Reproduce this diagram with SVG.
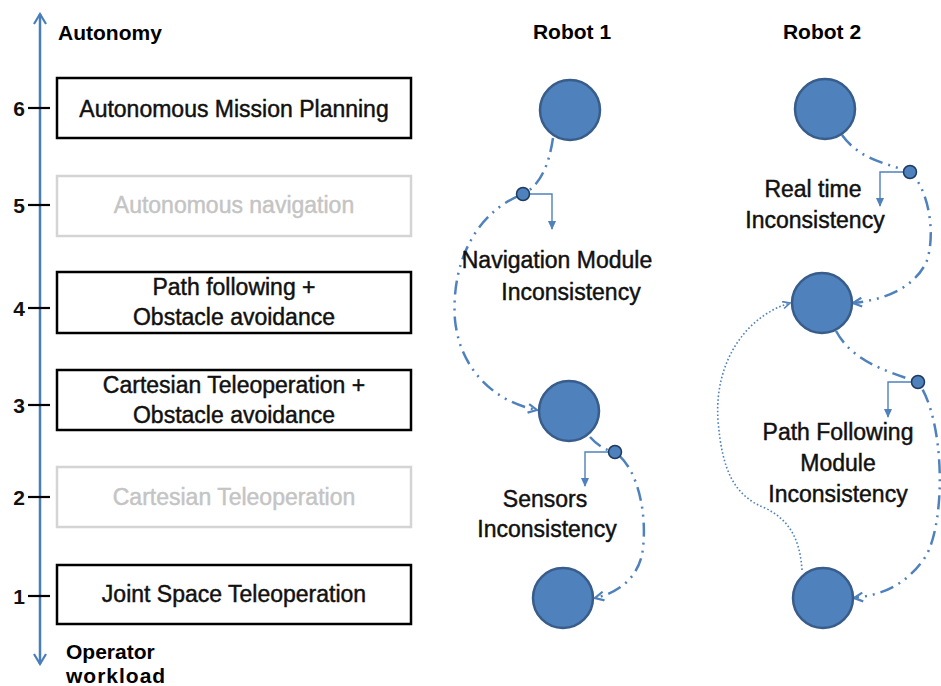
<svg xmlns="http://www.w3.org/2000/svg" width="941" height="686" viewBox="0 0 941 686">
<defs>
<style>
.bold{font-family:"Liberation Sans",Arial,sans-serif;font-weight:bold;fill:#000}
.lbl{font-family:"Liberation Sans",Arial,sans-serif;font-size:23px;fill:#111;stroke:#111;stroke-width:0.45;text-anchor:middle}
.box{fill:#fff;stroke:#000;stroke-width:2.5}
.boxg{fill:#fff;stroke:#d4d4d4;stroke-width:2.5}
.grey{fill:#c4c4c4;stroke:#c4c4c4}
.tick{stroke:#000;stroke-width:2.2}
.num{font-family:"Liberation Sans",Arial,sans-serif;font-weight:bold;font-size:21px;fill:#111;text-anchor:end}
.node{fill:#4f81bd;stroke:#385d8a;stroke-width:2.5}
.dot{fill:#4f81bd;stroke:#1f3a60;stroke-width:1.5}
.flow{fill:none;stroke:#4f81bd;stroke-width:2.5;stroke-dasharray:14 6 2 6 2 6;marker-end:url(#chev)}
.dotted{fill:none;stroke:#4f81bd;stroke-width:1.6;stroke-dasharray:1.6 2.2;marker-end:url(#chevs)}
.pointer{fill:none;stroke:#4f81bd;stroke-width:1.4;marker-end:url(#tri)}
</style>
<marker id="chev" viewBox="0 0 10 10" refX="9" refY="5" markerWidth="11" markerHeight="11" markerUnits="userSpaceOnUse" orient="auto">
<path d="M1,1 L9,5 L1,9" fill="none" stroke="#4f81bd" stroke-width="2"/>
</marker>
<marker id="chevs" viewBox="0 0 10 10" refX="9" refY="5" markerWidth="9" markerHeight="9" markerUnits="userSpaceOnUse" orient="auto">
<path d="M1,1 L9,5 L1,9" fill="none" stroke="#4f81bd" stroke-width="1.8"/>
</marker>
<marker id="tri" viewBox="0 0 10 10" refX="9" refY="5" markerWidth="9" markerHeight="9" markerUnits="userSpaceOnUse" orient="auto">
<path d="M0,0.5 L10,5 L0,9.5 z" fill="#4f81bd"/>
</marker>
<marker id="axisArr" viewBox="0 0 14 14" refX="12" refY="7" markerWidth="14" markerHeight="14" markerUnits="userSpaceOnUse" orient="auto-start-reverse">
<path d="M2,1 L12,7 L2,13" fill="none" stroke="#4a7ebb" stroke-width="2.2"/>
</marker>
</defs>
<rect width="941" height="686" fill="#fff"/>

<g id="axis">
<line x1="40" y1="14" x2="40" y2="664" stroke="#4a7ebb" stroke-width="2.5" marker-start="url(#axisArr)" marker-end="url(#axisArr)"/>
<text class="bold" x="58" y="40" font-size="21">Autonomy</text>
<text class="bold" x="66" y="659" font-size="21">Operator</text>
<text class="bold" x="66" y="683" font-size="21" letter-spacing="1">workload</text>
<line class="tick" x1="28" y1="108" x2="50" y2="108"/>
<line class="tick" x1="28" y1="205" x2="50" y2="205"/>
<line class="tick" x1="28" y1="308" x2="50" y2="308"/>
<line class="tick" x1="28" y1="405" x2="50" y2="405"/>
<line class="tick" x1="28" y1="497" x2="50" y2="497"/>
<line class="tick" x1="28" y1="596" x2="50" y2="596"/>
<text class="num" x="25" y="116">6</text>
<text class="num" x="25" y="213">5</text>
<text class="num" x="25" y="316">4</text>
<text class="num" x="25" y="413">3</text>
<text class="num" x="25" y="505">2</text>
<text class="num" x="25" y="604">1</text>
</g>

<g id="level6">
<rect class="box" x="57" y="78" width="354" height="60"/>
<text class="lbl" x="234" y="117">Autonomous Mission Planning</text>
</g>
<g id="level5">
<rect class="boxg" x="57" y="176" width="354" height="60"/>
<text class="lbl grey" x="234" y="213">Autonomous navigation</text>
</g>
<g id="level4">
<rect class="box" x="57" y="272" width="354" height="61"/>
<text class="lbl" x="234" y="295">Path following +</text>
<text class="lbl" x="234" y="325">Obstacle avoidance</text>
</g>
<g id="level3">
<rect class="box" x="57" y="370" width="354" height="60"/>
<text class="lbl" x="234" y="393">Cartesian Teleoperation +</text>
<text class="lbl" x="234" y="423">Obstacle avoidance</text>
</g>
<g id="level2">
<rect class="boxg" x="57" y="467" width="354" height="60"/>
<text class="lbl grey" x="234" y="505">Cartesian Teleoperation</text>
</g>
<g id="level1">
<rect class="box" x="57" y="565" width="354" height="59"/>
<text class="lbl" x="234" y="602">Joint Space Teleoperation</text>
</g>

<g id="titles">
<text class="bold" font-size="21" text-anchor="middle" x="572" y="39">Robot 1</text>
<text class="bold" font-size="21" text-anchor="middle" x="822" y="39">Robot 2</text>
</g>

<g id="connectors">
<path class="flow" d="M553,138 C549,165 540,186 523,194 C472,214 451,268 455,320 C460,370 495,402 537,410"/>
<path class="flow" d="M590,437 C598,446 606,450 615,452 C640,470 648,520 642,555 C636,580 617,593 595,598"/>
<path class="flow" d="M842,135 C860,160 886,163 910,172 C930,190 936,238 926,263 C912,290 882,300 853,303"/>
<path class="flow" d="M836,331 C852,360 882,370 918,382 C945,420 946,520 926,556 C906,586 881,595 854,598"/>
<path class="dotted" d="M802,570 C800,540 790,520 765,508 C735,496 722,472 718,420 C714,362 746,316 790,303"/>
<path class="pointer" d="M529,194 L552,194 L552,229"/>
<path class="pointer" d="M609,452 L585,452 L585,486"/>
<path class="pointer" d="M904,172 L880,172 L880,206"/>
<path class="pointer" d="M912,382 L888,382 L888,417"/>
</g>

<g id="r1n1"><circle class="node" cx="570" cy="110" r="30"/></g>
<g id="r1n2"><circle class="node" cx="569" cy="411" r="30"/></g>
<g id="r1n3"><circle class="node" cx="563" cy="598" r="30"/></g>
<g id="r2n1"><circle class="node" cx="825" cy="109" r="30"/></g>
<g id="r2n2"><circle class="node" cx="822" cy="303" r="30"/></g>
<g id="r2n3"><circle class="node" cx="823" cy="598" r="30"/></g>

<g id="ev1"><circle class="dot" cx="523" cy="194" r="6.5"/></g>
<g id="ev2"><circle class="dot" cx="615" cy="452" r="6.5"/></g>
<g id="ev3"><circle class="dot" cx="910" cy="172" r="6.5"/></g>
<g id="ev4"><circle class="dot" cx="918" cy="382" r="6.5"/></g>

<g id="lbl-nav">
<text class="lbl" x="557" y="268">Navigation Module</text>
<text class="lbl" x="571" y="300">Inconsistency</text>
</g>
<g id="lbl-sens">
<text class="lbl" x="545" y="507">Sensors</text>
<text class="lbl" x="547" y="537">Inconsistency</text>
</g>
<g id="lbl-rt">
<text class="lbl" x="813" y="197">Real time</text>
<text class="lbl" x="815" y="228">Inconsistency</text>
</g>
<g id="lbl-pf">
<text class="lbl" x="838" y="440">Path Following</text>
<text class="lbl" x="838" y="471">Module</text>
<text class="lbl" x="838" y="502">Inconsistency</text>
</g>
</svg>
